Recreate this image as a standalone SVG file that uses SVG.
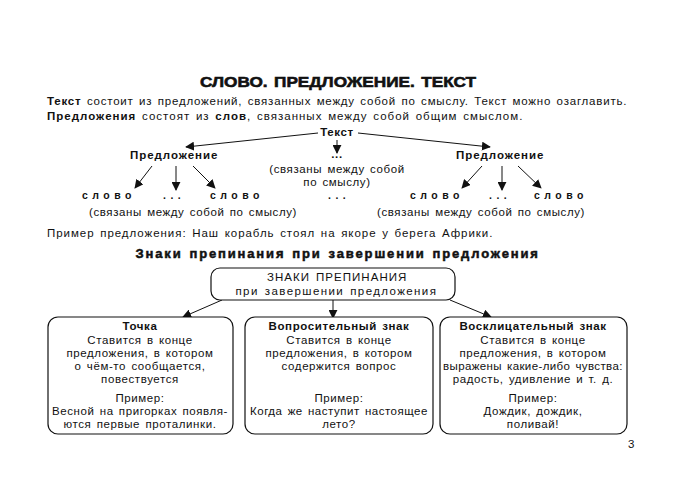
<svg xmlns="http://www.w3.org/2000/svg" width="674" height="482" viewBox="0 0 674 482">
<style>
text{font-family:"Liberation Sans",Arial,sans-serif;fill:#111;font-size:11.5px;letter-spacing:0.6px;word-spacing:1.5px}
.t{font-weight:bold;font-size:15.5px;stroke:#111;stroke-width:0.6;letter-spacing:0}
.b{font-weight:bold}
.h{font-weight:bold;font-size:13px;stroke:#111;stroke-width:0.5}
.c{text-anchor:middle}
.sp{letter-spacing:4.5px;font-weight:bold;font-size:10.5px}
.box{fill:#fff;stroke:#111;stroke-width:1.2}
.ln{stroke:#111;stroke-width:1;fill:none}
</style>
<defs>
<marker id="ah" viewBox="0 0 10 10" refX="9" refY="5" markerWidth="9" markerHeight="9" markerUnits="userSpaceOnUse" orient="auto">
<path d="M0,0 L10,5 L0,10 z" fill="#111"/>
</marker>
</defs>
<rect width="674" height="482" fill="#fff"/>
<text class="t c" x="338" y="87" textLength="276" lengthAdjust="spacingAndGlyphs">СЛОВО. ПРЕДЛОЖЕНИЕ. ТЕКСТ</text>
<text x="47" y="105" textLength="580" lengthAdjust="spacing"><tspan class="b">Текст</tspan> состоит из предложений, связанных между собой по смыслу. Текст можно озаглавить.</text>
<text x="47" y="120" textLength="476" lengthAdjust="spacing"><tspan class="b">Предложения</tspan> состоят из <tspan class="b">слов</tspan>, связанных между собой общим смыслом.</text>

<g id="tekst"><text class="b c" x="337" y="136">Текст</text></g>
<g id="sent-left"><text class="b c" x="174" y="159" textLength="88">Предложение</text></g>
<g id="sent-right"><text class="b c" x="500" y="159" textLength="88">Предложение</text></g>
<g id="mid-dots"><text class="b c" x="337" y="158">...</text>
<text class="c" x="337" y="173">(связаны между собой</text>
<text class="c" x="337" y="186">по смыслу)</text></g>
<g id="words-left">
<text class="sp" x="82" y="199">слово</text>
<text class="sp" x="163" y="199">...</text>
<text class="sp" x="210" y="199">слово</text>
<text class="c" x="193" y="216">(связаны между собой по смыслу)</text></g>
<g id="words-mid"><text class="sp" x="328" y="199">...</text></g>
<g id="words-right">
<text class="sp" x="410" y="199">слово</text>
<text class="sp" x="489" y="199">...</text>
<text class="sp" x="534" y="199">слово</text>
<text class="c" x="481" y="216">(связаны между собой по смыслу)</text></g>

<text x="47" y="237" textLength="446" lengthAdjust="spacing">Пример предложения: Наш корабль стоял на якоре у берега Африки.</text>
<text class="h c" x="337" y="258" textLength="403" lengthAdjust="spacing">Знаки препинания при завершении предложения</text>

<g id="connectors">
<line class="ln" x1="318" y1="133" x2="186" y2="147" marker-end="url(#ah)"/>
<line class="ln" x1="358" y1="133" x2="490" y2="147" marker-end="url(#ah)"/>
<line class="ln" x1="337" y1="140" x2="337" y2="153" marker-end="url(#ah)"/>
<line class="ln" x1="152" y1="166" x2="135" y2="188" marker-end="url(#ah)"/>
<line class="ln" x1="176" y1="166" x2="176" y2="190" marker-end="url(#ah)"/>
<line class="ln" x1="193" y1="166" x2="215" y2="188" marker-end="url(#ah)"/>
<line class="ln" x1="482" y1="166" x2="462" y2="188" marker-end="url(#ah)"/>
<line class="ln" x1="502" y1="166" x2="502" y2="190" marker-end="url(#ah)"/>
<line class="ln" x1="518" y1="166" x2="541" y2="188" marker-end="url(#ah)"/>
<line class="ln" x1="222" y1="300" x2="183" y2="317" marker-end="url(#ah)"/>
<line class="ln" x1="333" y1="300" x2="333" y2="318" marker-end="url(#ah)"/>
<line class="ln" x1="450" y1="300" x2="491" y2="317" marker-end="url(#ah)"/>
</g>

<g id="top-box">
<rect class="box" x="211" y="268" width="244" height="32" rx="9"/>
<text class="c" x="337" y="281" textLength="140" lengthAdjust="spacing">ЗНАКИ ПРЕПИНАНИЯ</text>
<text class="c" x="336" y="295" textLength="201" lengthAdjust="spacing">при завершении предложения</text>
</g>

<g id="box-tochka">
<rect class="box" x="48" y="317" width="185" height="117" rx="10"/>
<text class="b c" x="140" y="330">Точка</text>
<text class="c" x="140" y="344">Ставится в конце</text>
<text class="c" x="140" y="357">предложения, в котором</text>
<text class="c" x="140" y="370">о чём-то сообщается,</text>
<text class="c" x="140" y="383">повествуется</text>
<text class="c" x="140" y="402">Пример:</text>
<text class="c" x="140" y="415" textLength="176" lengthAdjust="spacing">Весной на пригорках появля-</text>
<text class="c" x="140" y="428">ются первые проталинки.</text>
</g>

<g id="box-vopros">
<rect class="box" x="245" y="317" width="188" height="117" rx="10"/>
<text class="b c" x="339" y="330">Вопросительный знак</text>
<text class="c" x="339" y="344">Ставится в конце</text>
<text class="c" x="339" y="357">предложения, в котором</text>
<text class="c" x="339" y="370">содержится вопрос</text>
<text class="c" x="339" y="402">Пример:</text>
<text class="c" x="339" y="415" textLength="178" lengthAdjust="spacing">Когда же наступит настоящее</text>
<text class="c" x="339" y="428">лето?</text>
</g>

<g id="box-voskl">
<rect class="box" x="440" y="317" width="187" height="117" rx="10"/>
<text class="b c" x="533" y="330">Восклицательный знак</text>
<text class="c" x="533" y="344">Ставится в конце</text>
<text class="c" x="533" y="357">предложения, в котором</text>
<text class="c" x="533" y="370" textLength="180" lengthAdjust="spacing">выражены какие-либо чувства:</text>
<text class="c" x="533" y="383">радость, удивление и т. д.</text>
<text class="c" x="533" y="402">Пример:</text>
<text class="c" x="533" y="415">Дождик, дождик,</text>
<text class="c" x="533" y="428">поливай!</text>
</g>

<text x="628" y="448" font-size="12">3</text>
</svg>
